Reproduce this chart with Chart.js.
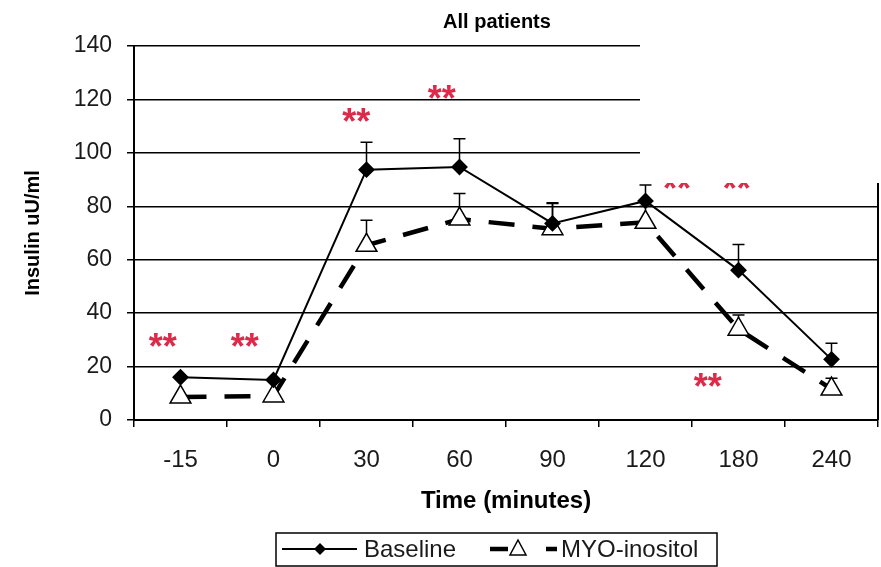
<!DOCTYPE html>
<html lang="en">
<head>
<meta charset="UTF-8">
<title>All patients - Insulin</title>
<script src="https://cdn.jsdelivr.net/npm/chart.js"></script>
<style>
    html, body {
        margin: 0;
        overflow: hidden;
        background-color: #fff;
    }
    canvas {
        display: block;
    }
</style>
</head>
<body>

<canvas id="insulinChart" width="881" height="567"></canvas>

<script>
// Time points (minutes) and insulin values (uU/ml)
const timeLabels = ['-15', '0', '30', '60', '90', '120', '180', '240'];
const baselineValues = [16, 15, 93.7, 94.7, 73.6, 82, 56.1, 22.7];
const baselineErrors = [null, null, 10.3, 10.6, 7.4, 6, 9.6, 6];
const myoValues = [8.6, 9, 65.4, 75.2, 71.6, 74, 34, 11.6];
const myoErrors = [null, null, 9.4, 9.6, 9.7, 6, 5.3, 4];

// "**" significance marks: category index (fractional) and insulin level
const starIndex = [-0.19, 0.69, 1.89, 2.81, 5.34, 5.98, 5.67];
const starValue = [30, 30, 114, 122.7, 89, 89, 15];

const FONT = "'Liberation Sans', Arial, sans-serif";
Chart.defaults.font.family = FONT;
Chart.defaults.color = '#1a1a1a';

const errorSets = [baselineErrors, myoErrors];

const extras = {
    id: 'extras',
    beforeDatasetsDraw(chart) {
        const ctx = chart.ctx;
        const y = chart.scales.y;
        ctx.save();
        ctx.strokeStyle = '#000';
        ctx.lineWidth = 1.5;
        chart.data.datasets.forEach((ds, i) => {
            const meta = chart.getDatasetMeta(i);
            errorSets[i].forEach((err, j) => {
                if (err === null) return;
                const x = meta.data[j].x;
                const y0 = y.getPixelForValue(ds.data[j]);
                const y1 = y.getPixelForValue(ds.data[j] + err);
                ctx.beginPath();
                ctx.moveTo(x, y0);
                ctx.lineTo(x, y1);
                ctx.moveTo(x - 6, y1);
                ctx.lineTo(x + 6, y1);
                ctx.stroke();
            });
        });
        ctx.restore();
    },
    afterDatasetsDraw(chart) {
        const ctx = chart.ctx;
        const {x, y} = chart.scales;
        const area = chart.chartArea;
        ctx.save();
        // right frame line
        ctx.strokeStyle = '#000';
        ctx.lineWidth = 2;
        ctx.beginPath();
        ctx.moveTo(area.right, area.top);
        ctx.lineTo(area.right, area.bottom);
        ctx.stroke();
        // significance stars
        ctx.fillStyle = '#dc2a4a';
        ctx.font = 'bold 36px ' + FONT;
        ctx.textAlign = 'center';
        ctx.textBaseline = 'alphabetic';
        const m = ctx.measureText('**');
        const shift = (m.actualBoundingBoxAscent - m.actualBoundingBoxDescent) / 2;
        starIndex.forEach((idx, k) => {
            ctx.fillText('**', x.getPixelForValue(idx), y.getPixelForValue(starValue[k]) + shift);
        });
        ctx.restore();
    },
    afterDraw(chart) {
        const ctx = chart.ctx;
        ctx.save();
        // white patch over the top right corner, as in the scan
        ctx.fillStyle = '#fff';
        ctx.fillRect(640, 0, chart.width - 640, 183);

        // title
        ctx.fillStyle = '#000';
        ctx.font = 'bold 20px ' + FONT;
        ctx.textAlign = 'center';
        ctx.textBaseline = 'middle';
        ctx.fillText('All patients', 497, 22);

        // legend box
        const ly = 549;
        ctx.strokeStyle = '#000';
        ctx.lineWidth = 1.5;
        ctx.strokeRect(276, 533, 441, 33);

        const base = chart.data.datasets[0];
        const myo = chart.data.datasets[1];

        ctx.lineWidth = base.borderWidth;
        ctx.beginPath();
        ctx.moveTo(282, ly);
        ctx.lineTo(357, ly);
        ctx.stroke();
        ctx.fillStyle = '#000';
        ctx.beginPath();
        ctx.moveTo(320, ly - 6);
        ctx.lineTo(326, ly);
        ctx.lineTo(320, ly + 6);
        ctx.lineTo(314, ly);
        ctx.closePath();
        ctx.fill();

        ctx.lineWidth = myo.borderWidth;
        ctx.beginPath();
        ctx.moveTo(490, ly);
        ctx.lineTo(508, ly);
        ctx.moveTo(546, ly);
        ctx.lineTo(557, ly);
        ctx.stroke();
        ctx.fillStyle = '#fff';
        ctx.lineWidth = 1.5;
        ctx.beginPath();
        ctx.moveTo(518, ly - 9);
        ctx.lineTo(526, ly + 6);
        ctx.lineTo(510, ly + 6);
        ctx.closePath();
        ctx.fill();
        ctx.stroke();

        ctx.fillStyle = '#1a1a1a';
        ctx.font = '24px ' + FONT;
        ctx.textAlign = 'left';
        ctx.fillText(base.label, 364, ly + 1);
        ctx.fillText(myo.label, 561, ly + 1);
        ctx.restore();
    }
};

new Chart(document.getElementById('insulinChart'), {
    type: 'line',
    data: {
        labels: timeLabels,
        datasets: [
            {
                label: 'Baseline',
                data: baselineValues,
                borderColor: '#000',
                borderWidth: 2,
                pointStyle: 'rectRot',
                pointRadius: 7,
                pointBackgroundColor: '#000',
                pointBorderColor: '#000',
                tension: 0
            },
            {
                label: 'MYO-inositol',
                data: myoValues,
                borderColor: '#000',
                borderWidth: 4.5,
                borderDash: [26, 18],
                pointStyle: 'triangle',
                pointRadius: 12,
                pointBackgroundColor: '#fff',
                pointBorderColor: '#000',
                pointBorderWidth: 1.5,
                tension: 0
            }
        ]
    },
    options: {
        responsive: false,
        animation: false,
        layout: {
            autoPadding: false,
            padding: { top: 46, right: 3, bottom: 47, left: 0 }
        },
        plugins: {
            legend: { display: false },
            tooltip: { enabled: false }
        },
        scales: {
            x: {
                offset: true,
                grid: {
                    offset: true,
                    drawOnChartArea: false,
                    tickLength: 7,
                    color: '#000',
                    lineWidth: 1.5
                },
                border: { color: '#000', width: 2 },
                ticks: { font: { size: 24 }, padding: 19, color: '#1a1a1a' },
                title: {
                    display: true,
                    text: 'Time (minutes)',
                    font: { size: 24, weight: 'bold' },
                    color: '#000',
                    padding: { top: 0, bottom: 4 }
                },
                afterFit(scale) {
                    scale.height = 100;
                    scale.paddingLeft = 0;
                    scale.paddingRight = 0;
                }
            },
            y: {
                min: 0,
                max: 140,
                ticks: { stepSize: 20, font: { size: 23 }, padding: 15, color: '#1a1a1a' },
                grid: { color: '#000', lineWidth: 1.5, tickLength: 7 },
                border: { color: '#000', width: 2 },
                title: {
                    display: true,
                    text: 'Insulin uU/ml',
                    font: { size: 20, weight: 'bold' },
                    color: '#000',
                    padding: { top: 21, bottom: 0 }
                },
                afterFit(scale) { scale.width = 134; }
            }
        }
    },
    plugins: [extras]
});
</script>

</body>
</html>
